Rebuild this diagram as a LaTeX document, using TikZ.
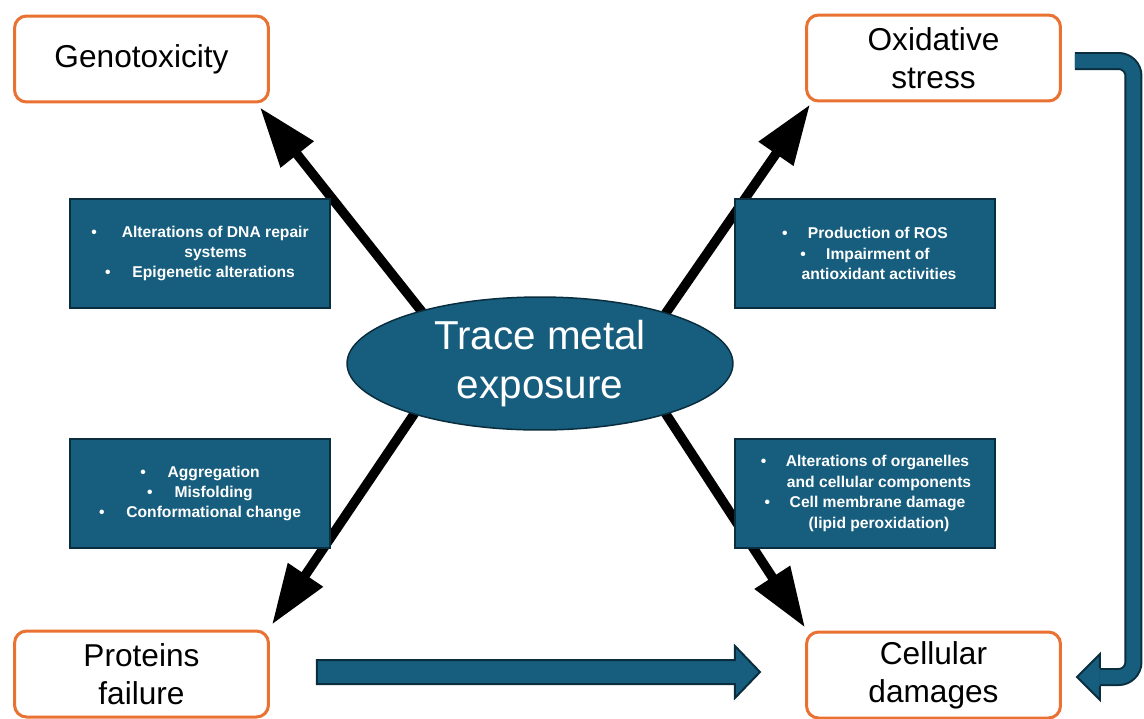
\documentclass[tikz,border=0pt]{standalone}
\usepackage{fontspec}
\setmainfont{Liberation Sans}
\usetikzlibrary{shapes.geometric, arrows.meta, backgrounds}
\definecolor{tmblue}{RGB}{23,94,126}
\definecolor{tmdark}{RGB}{10,46,62}
\definecolor{tmorange}{RGB}{233,113,50}

\begin{document}
\begin{tikzpicture}[
    x=0.02cm, y=-0.02cm,
    effectbox/.style={
        draw=tmorange,
        line width=0.06cm,
        rounded corners=0.24cm,
        fill=white,
        minimum width=5.08cm,
        minimum height=1.72cm,
        inner sep=0pt,
        align=center,
        font=\fontsize{18}{21.5}\selectfont
    },
    mechbox/.style={
        draw=tmdark,
        line width=0.04cm,
        fill=tmblue,
        text=white,
        minimum width=5.2cm,
        minimum height=2.18cm,
        inner sep=0pt,
        align=center,
        font=\fontsize{8.9}{11.6}\selectfont\bfseries
    },
    sourcenode/.style={
        ellipse,
        draw=tmdark,
        line width=0.03cm,
        fill=tmblue,
        text=white,
        minimum width=7.72cm,
        minimum height=2.66cm,
        inner sep=0pt,
        align=center,
        font=\fontsize{23}{28}\selectfont
    },
    leadarrow/.style={-{Triangle[length=1.2cm, width=0.8cm]}, line width=0.19cm, shorten <=-0.2cm},
    blockarrow/.style={draw=tmdark, line width=0.04cm, fill=tmblue}
]
\useasboundingbox (0,0) rectangle (1144,718);

% === Effects ===
\node[effectbox] (geno) at (141.5,59) {Genotoxicity};
\node[effectbox] (ox) at (933.5,58) {Oxidative\\stress};
\node[effectbox] (prot) at (141.5,674) {Proteins\\failure};
\node[effectbox] (cell) at (933.5,675) {Cellular\\damages};

% === Exposure ===
\node[sourcenode] (tme) at (540,363.5) {Trace metal\\exposure};

% === Mechanisms ===
\node[mechbox] (dna) at (200,253.5) {
\textbullet\hspace{1.6em}Alterations of DNA repair\\
\hspace*{2em}systems\\
\textbullet\hspace{1.4em}Epigenetic alterations
};
\node[mechbox] (ros) at (865,253.5) {
\textbullet\hspace{1.3em}Production of ROS\\
\textbullet\hspace{1.3em}Impairment of\\
\hspace*{1.8em}antioxidant activities
};
\node[mechbox] (fold) at (200,493.5) {
\textbullet\hspace{1.4em}Aggregation\\
\textbullet\hspace{1.4em}Misfolding\\
\textbullet\hspace{1.4em}Conformational change
};
\node[mechbox] (memb) at (865,493.5) {
\textbullet\hspace{1.25em}Alterations of organelles\\
\hspace*{1.8em}and cellular components\\
\textbullet\hspace{1.25em}Cell membrane damage\\
\hspace*{1.8em}(lipid peroxidation)
};

% === Arrows ===
\begin{pgfonlayer}{background}
\draw[leadarrow] (tme.156) -- ([shift={(-10,4)}]geno.south east);
\draw[leadarrow] (tme.22) -- ([shift={(5,2)}]ox.south west);
\draw[leadarrow] (tme.202) -- ([shift={(2,-5)}]prot.north east);
\draw[leadarrow] (tme.338) -- ([shift={(0,-3)}]cell.north west);
\end{pgfonlayer}

\filldraw[blockarrow] ([shift={(47,-14)}]prot.east) -- ++(418,0) -- ++(0,-14) -- ++(25,26)
    -- ++(-25,26) -- ++(0,-14) -- ++(-418,0) -- cycle;

\filldraw[blockarrow] ([shift={(38,-7)}]cell.east) -- ++(0,-14) -- ++(-23,23) -- ++(23,23) -- ++(0,-14);
\draw[tmdark, line width=0.04cm, double=tmblue, double distance=0.28cm, rounded corners=0.3cm]
    ([shift={(13,3)}]ox.east) -- ++(58.5,0) |- ([shift={(38,2)}]cell.east);

\end{tikzpicture}
\end{document}
